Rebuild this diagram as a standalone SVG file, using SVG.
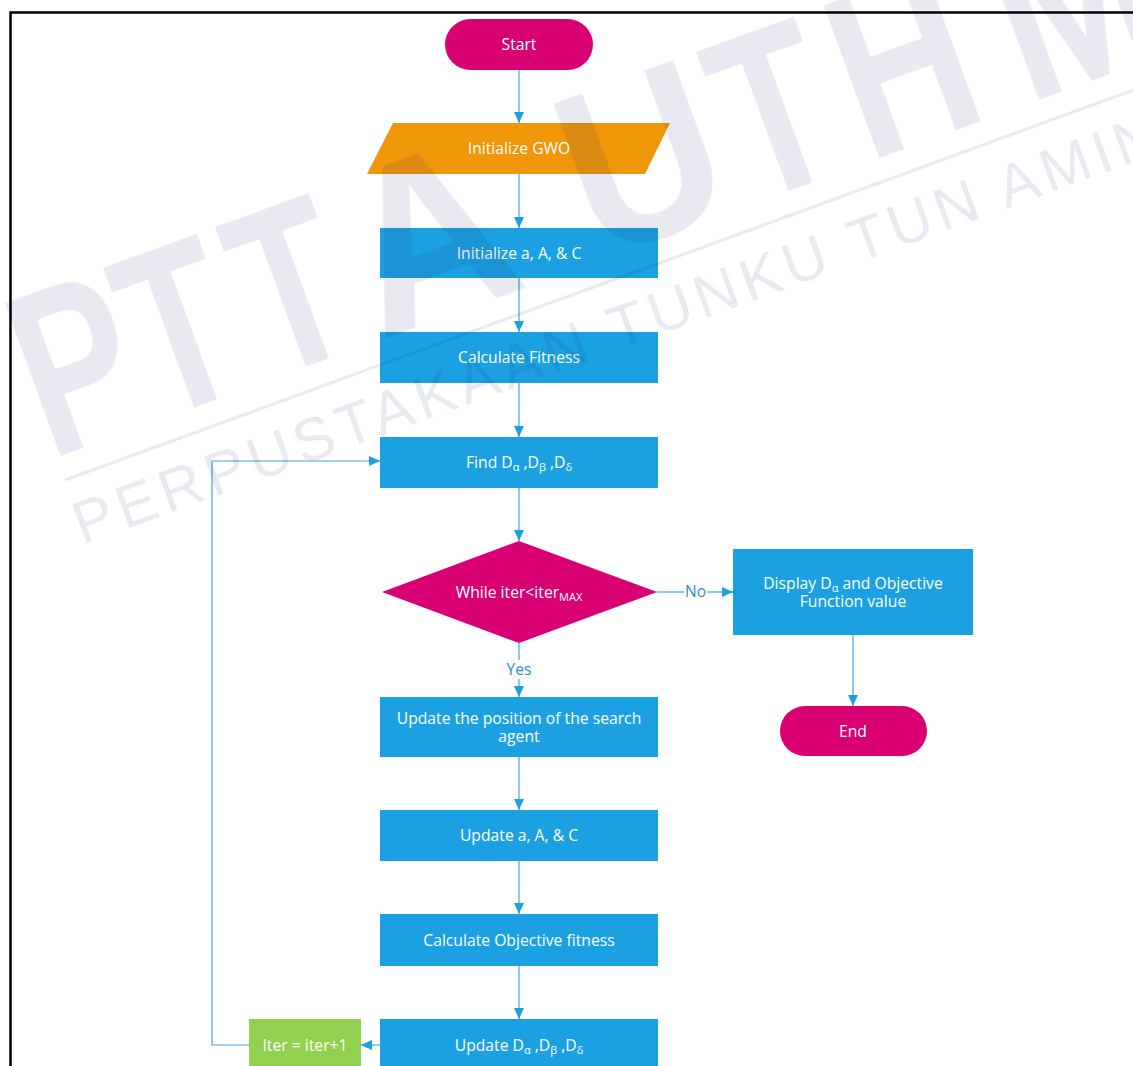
<svg xmlns="http://www.w3.org/2000/svg" width="1133" height="1066" viewBox="0 0 1133 1066">
<style>
.t{font-family:"Open Sans","Noto Sans",sans-serif;font-size:15.7px;fill:#ffffff;text-anchor:middle}
.lbl{font-family:"Open Sans","Noto Sans",sans-serif;font-size:15.5px;fill:#2a8fcf;text-anchor:middle}
.blue{fill:#1ba1e2}
.mag{fill:#d80073}
.conn{fill:none;stroke:#3aa8e0;stroke-width:1.2}
.wm{font-family:"Liberation Sans",Arial,sans-serif;fill:#1e1e6e}
.big{font-size:235px;font-weight:bold;text-anchor:middle}
</style>
<defs>
<marker id="arr" viewBox="0 0 11 10" refX="11" refY="5" markerWidth="11" markerHeight="10" markerUnits="userSpaceOnUse" orient="auto">
<path d="M0,0 L11,5 L0,10 z" fill="#1ba1e2"/>
</marker>
</defs>
<rect x="0" y="0" width="1133" height="1066" fill="#ffffff"/>
<path d="M10.5,1066 V12.5 H1133" fill="none" stroke="#000" stroke-width="2.5"/>

<g id="connectors">
<path class="conn" d="M519,70 V123" marker-end="url(#arr)"/>
<path class="conn" d="M519,174 V228" marker-end="url(#arr)"/>
<path class="conn" d="M519,278 V332" marker-end="url(#arr)"/>
<path class="conn" d="M519,383 V437" marker-end="url(#arr)"/>
<path class="conn" d="M519,488 V541" marker-end="url(#arr)"/>
<path class="conn" d="M519,643 V660"/>
<path class="conn" d="M519,679 V697" marker-end="url(#arr)"/>
<text class="lbl" x="519" y="675">Yes</text>
<path class="conn" d="M657,592 H684"/>
<path class="conn" d="M707,592 H733" marker-end="url(#arr)"/>
<text class="lbl" x="695.5" y="597">No</text>
<path class="conn" d="M853,635 V706" marker-end="url(#arr)"/>
<path class="conn" d="M519,757 V810" marker-end="url(#arr)"/>
<path class="conn" d="M519,861 V914" marker-end="url(#arr)"/>
<path class="conn" d="M519,966 V1019" marker-end="url(#arr)"/>
<path class="conn" d="M380,1045 H361" marker-end="url(#arr)"/>
<path class="conn" d="M249,1045 H212 V461 H380" marker-end="url(#arr)"/>
</g>

<g id="start">
<rect class="mag" x="445" y="19" width="148" height="51" rx="25.5"/>
<text class="t" x="519" y="49.5">Start</text>
</g>
<g id="init-gwo">
<polygon points="393,123 670,123 645,174 367,174" fill="#f09609"/>
<text class="t" x="519" y="153.5">Initialize GWO</text>
</g>
<g id="init-aac">
<rect class="blue" x="380" y="228" width="278" height="50"/>
<text class="t" x="519" y="258.5">Initialize a, A, &amp; C</text>
</g>
<g id="calc-fitness">
<rect class="blue" x="380" y="332" width="278" height="51"/>
<text class="t" x="519" y="362.5">Calculate Fitness</text>
</g>
<g id="find-d">
<rect class="blue" x="380" y="437" width="278" height="51"/>
<text class="t" x="519" y="467.5">Find D<tspan font-size="11" dy="3">α</tspan><tspan dy="-3"> ,D</tspan><tspan font-size="11" dy="3">β</tspan><tspan dy="-3"> ,D</tspan><tspan font-size="11" dy="3">δ</tspan></text>
</g>
<g id="while">
<polygon class="mag" points="519,541 657,592 519,643 382,592"/>
<text class="t" x="519" y="597.5">While iter&lt;iter<tspan font-size="11" dy="3">MAX</tspan></text>
</g>
<g id="display">
<rect class="blue" x="733" y="549" width="240" height="86"/>
<text class="t" x="853" y="588.5">Display D<tspan font-size="11" dy="3">α</tspan><tspan dy="-3"> and Objective</tspan></text>
<text class="t" x="853" y="606.5">Function value</text>
</g>
<g id="end">
<rect class="mag" x="780" y="706" width="147" height="50" rx="25"/>
<text class="t" x="853" y="736.5">End</text>
</g>
<g id="update-pos">
<rect class="blue" x="380" y="697" width="278" height="60"/>
<text class="t" x="519" y="723.5">Update the position of the search</text>
<text class="t" x="519" y="741.5">agent</text>
</g>
<g id="update-aac">
<rect class="blue" x="380" y="810" width="278" height="51"/>
<text class="t" x="519" y="840.5">Update a, A, &amp; C</text>
</g>
<g id="calc-obj">
<rect class="blue" x="380" y="914" width="278" height="52"/>
<text class="t" x="519" y="945.5">Calculate Objective fitness</text>
</g>
<g id="update-d">
<rect class="blue" x="380" y="1019" width="278" height="50"/>
<text class="t" x="519" y="1050.5">Update D<tspan font-size="11" dy="3">α</tspan><tspan dy="-3"> ,D</tspan><tspan font-size="11" dy="3">β</tspan><tspan dy="-3"> ,D</tspan><tspan font-size="11" dy="3">δ</tspan></text>
</g>
<g id="iter">
<rect x="249" y="1019" width="112" height="50" fill="#92d050"/>
<text class="t" x="305" y="1050.5">Iter = iter+1</text>
</g>

<g id="watermark" opacity="0.1">
<g transform="translate(58,457) rotate(-20)">
<text class="wm big" transform="translate(48,0) scale(0.72,1)">P</text>
<text class="wm big" transform="translate(157,0) scale(0.72,1)">T</text>
<text class="wm big" transform="translate(276,0) scale(0.72,1)">T</text>
<text class="wm big" transform="translate(423,0) scale(0.95,1)">A</text>
<text class="wm big" transform="translate(650,0) scale(0.9,1)">U</text>
<text class="wm big" transform="translate(790,0) scale(0.75,1)">T</text>
<text class="wm big" transform="translate(928,0) scale(0.78,1)">H</text>
<text class="wm big" transform="translate(1110,0) scale(0.8,1)">M</text>
</g>
<path d="M65,480 L1180,73" stroke="#1e1e6e" stroke-width="3"/>
<text class="wm" font-size="60" letter-spacing="5.5" transform="translate(82,545) rotate(-20)">PERPUSTAKAAN TUNKU TUN AMINAH</text>
</g>
</svg>
